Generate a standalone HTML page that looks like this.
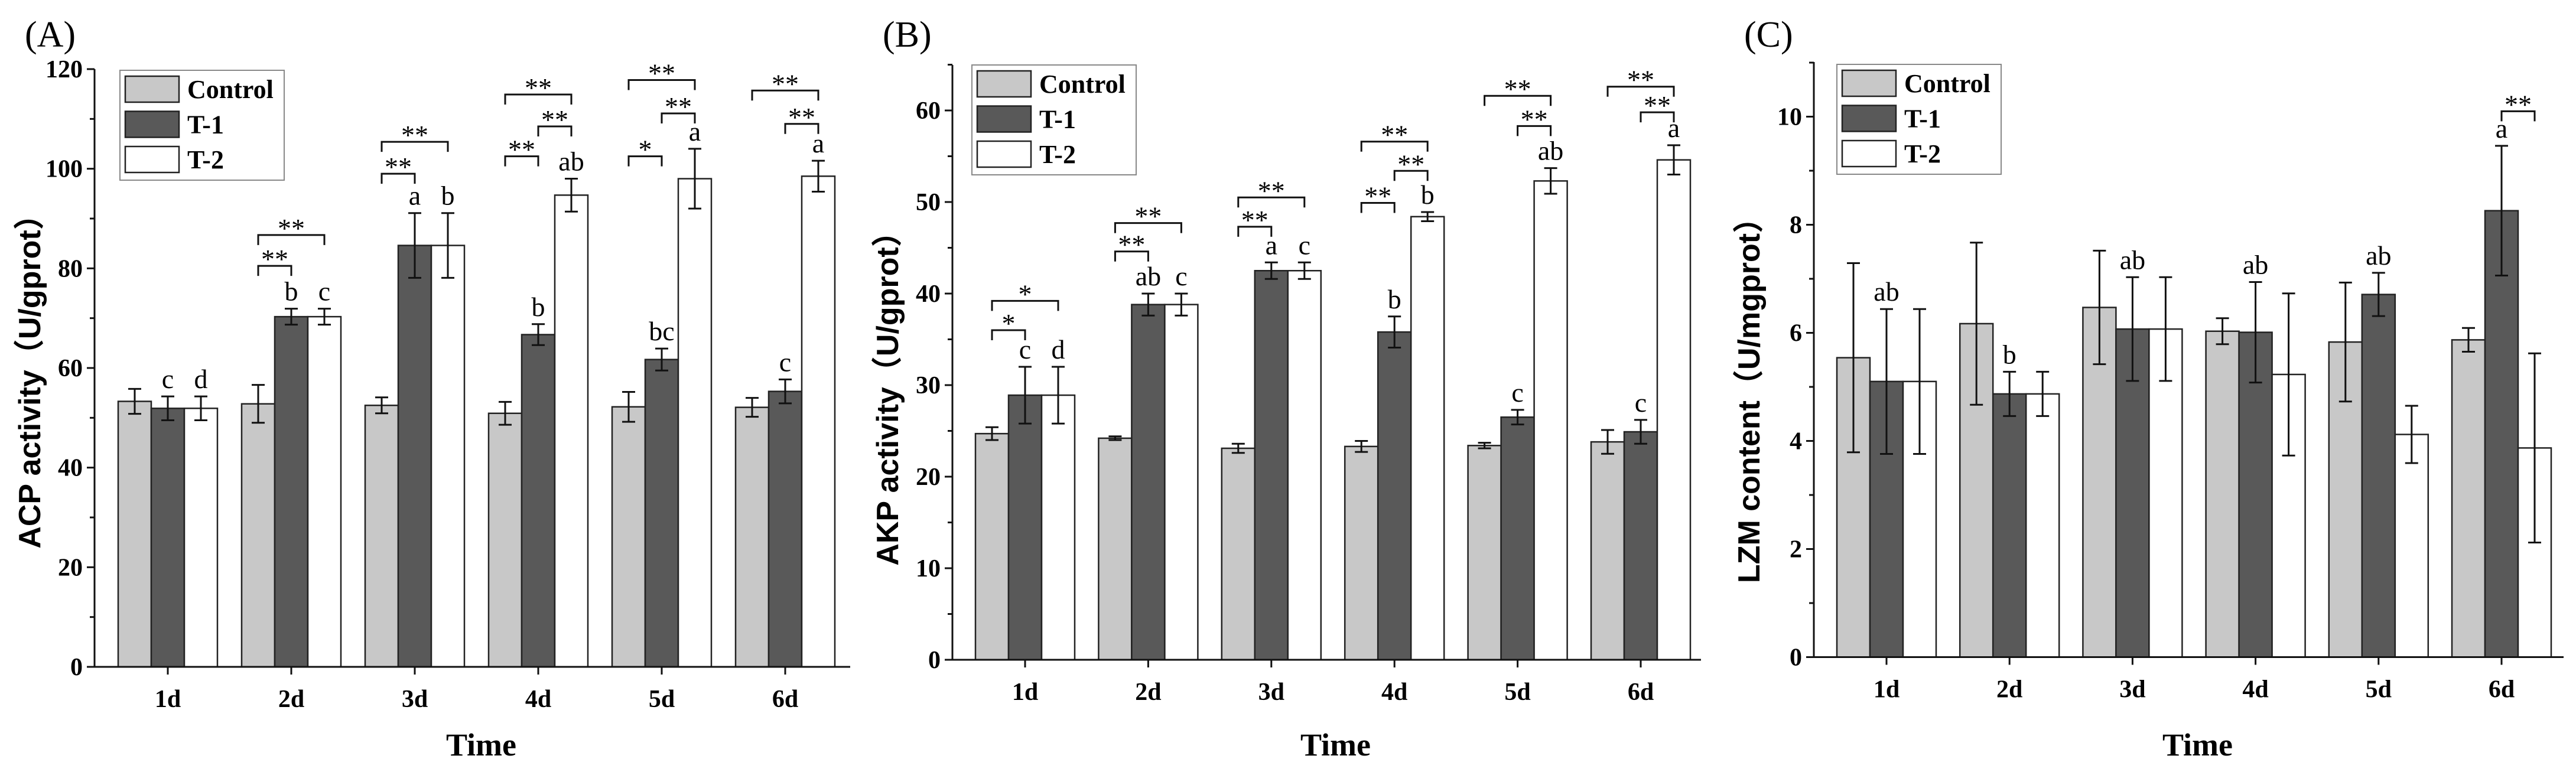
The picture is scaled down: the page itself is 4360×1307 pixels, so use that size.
<!DOCTYPE html>
<html><head><meta charset="utf-8"><style>
html,body{margin:0;padding:0;background:#fff}
svg{display:block}
</style></head><body>
<svg id="fig" width="4360" height="1307" viewBox="0 0 4360 1307" xmlns="http://www.w3.org/2000/svg"></svg>
<script>
const categories = ["1d","2d","3d","4d","5d","6d"];
const seriesNames = ["Control","T-1","T-2"];
// Panel A: ACP
const acpControl = [53.3,52.8,52.5,50.9,52.2,52.1];
const acpControlErr = [2.5,3.8,1.6,2.3,3.0,1.9];
const acpT1 = [51.9,70.3,84.6,66.7,61.7,55.3];
const acpT1Err = [2.4,1.6,6.5,2.1,2.2,2.4];
const acpT2 = [51.9,70.3,84.6,94.7,98.0,98.5];
const acpT2Err = [2.4,1.6,6.5,3.3,6.0,3.1];
const acpLettersT1 = ["c","b","a","b","bc","c"];
const acpLettersT2 = ["d","c","b","ab","a","a"];
const acpBrackets = [[1,0,1,80.5,"**"],[1,0,2,86.7,"**"],[2,0,1,99,"**"],[2,0,2,105.4,"**"],[3,0,1,102.5,"**"],[3,1,2,108.5,"**"],[3,0,2,114.9,"**"],[4,0,1,102.5,"*"],[4,1,2,111.1,"**"],[4,0,2,117.8,"**"],[5,1,2,109,"**"],[5,0,2,115.7,"**"]];
const acpTicks = [0,20,40,60,80,100,120];
// Panel B: AKP
const akpControl = [24.7,24.2,23.1,23.3,23.4,23.8];
const akpControlErr = [0.7,0.2,0.5,0.6,0.3,1.3];
const akpT1 = [28.9,38.8,42.5,35.8,26.5,24.9];
const akpT1Err = [3.1,1.2,0.9,1.7,0.8,1.3];
const akpT2 = [28.9,38.8,42.5,48.4,52.3,54.6];
const akpT2Err = [3.1,1.2,0.9,0.5,1.4,1.6];
const akpLettersT1 = ["c","ab","a","b","c","c"];
const akpLettersT2 = ["d","c","c","b","ab","a"];
const akpBrackets = [[0,0,1,36.0,"*"],[0,0,2,39.2,"*"],[1,0,1,44.6,"**"],[1,0,2,47.7,"**"],[2,0,1,47.3,"**"],[2,0,2,50.5,"**"],[3,0,1,49.9,"**"],[3,1,2,53.4,"**"],[3,0,2,56.6,"**"],[4,1,2,58.3,"**"],[4,0,2,61.6,"**"],[5,1,2,59.8,"**"],[5,0,2,62.6,"**"]];
const akpTicks = [0,10,20,30,40,50,60];
// Panel C: LZM
const lzmControl = [5.54,6.17,6.47,6.03,5.83,5.87];
const lzmControlErr = [1.75,1.5,1.05,0.24,1.1,0.22];
const lzmT1 = [5.10,4.87,6.07,6.01,6.71,8.26];
const lzmT1Err = [1.34,0.41,0.96,0.93,0.4,1.2];
const lzmT2 = [5.10,4.87,6.07,5.23,4.12,3.87];
const lzmT2Err = [1.34,0.41,0.96,1.5,0.53,1.75];
const lzmLettersT1 = ["ab","b","ab","ab","ab","a"];
const lzmLettersT2 = ["","","","","",""];
const lzmBrackets = [[5,1,2,10.1,"**"]];
const lzmTicks = [0,2,4,6,8,10];

const NS="http://www.w3.org/2000/svg";
const svg=document.getElementById('fig');
function mk(tag,attrs,parent){const e=document.createElementNS(NS,tag);for(const k in attrs)e.setAttribute(k,attrs[k]);(parent||svg).appendChild(e);return e;}
const fills=["#c8c8c8","#595959","#ffffff"];
const SERIF='"Liberation Serif", serif';

function panel(cfg){
  const g=mk('g',{});
  
  
  const y=v=>cfg.y0-(v-cfg.vmin)/(cfg.vmax-cfg.vmin)*(cfg.y0-cfg.ytop);
  const xc=i=>cfg.x1d+i*cfg.dx;
  const bw=56;
  const lab=mk('text',{x:cfg.ax-118,y:79,'font-family':SERIF,'font-size':62},g);
  lab.textContent=cfg.letter;
  
  
  const vals=[cfg.c,cfg.t1,cfg.t2], errs=[cfg.ce,cfg.t1e,cfg.t2e];
  for(let s=0;s<3;s++){
    for(let i=0;i<categories.length;i++){
      const cx=xc(i)+(s-1)*bw;
      const top=y(vals[s][i]);
      const r=mk('rect',{x:cx-bw/2,y:top,width:bw,height:cfg.y0-top,fill:fills[s],stroke:'#222','stroke-width':2.5},g);
      
      
    }
  }
  for(let s=0;s<3;s++){
    for(let i=0;i<categories.length;i++){
      const cx=xc(i)+(s-1)*bw;
      const hi=y(vals[s][i]+errs[s][i]), lo=y(vals[s][i]-errs[s][i]);
      const eb=mk('path',{d:`M${cx},${hi}V${lo}M${cx-11},${hi}H${cx+11}M${cx-11},${lo}H${cx+11}`,stroke:'#111','stroke-width':3,fill:'none'},g);
      
      
      const letters=s===1?cfg.l1:(s===2?cfg.l2:null);
      if(letters&&letters[i]){
        const t=mk('text',{x:cx,y:hi-14,'text-anchor':'middle','font-family':SERIF,'font-size':46},g);
        t.textContent=letters[i];
        
        
      }
    }
  }
  cfg.br.forEach(b=>{
    const xa=xc(b[0])+(b[1]-1)*bw, xb=xc(b[0])+(b[2]-1)*bw, yy=y(b[3]);
    const p=mk('path',{d:`M${xa},${yy+17}V${yy}H${xb}V${yy+17}`,stroke:'#111','stroke-width':3,fill:'none'},g);
    
    
    const t=mk('text',{x:(xa+xb)/2,y:yy+4,'text-anchor':'middle','font-family':SERIF,'font-size':46},g);
    t.textContent=b[4];
    
    
  });
  const axes=mk('path',{d:`M${cfg.ax},${cfg.axTop}V${cfg.y0}H${cfg.axEnd}`,stroke:'#111','stroke-width':3,fill:'none'},g);
  
  
  const step=cfg.ticks[1]-cfg.ticks[0];
  cfg.ticks.forEach(v=>{
    const yy=y(v);
    mk('path',{d:`M${cfg.ax-13},${yy}H${cfg.ax}`,stroke:'#111','stroke-width':3},g);
    const t=mk('text',{x:cfg.ax-20,y:yy+14,'text-anchor':'end','font-family':SERIF,'font-weight':'bold','font-size':42},g);
    t.textContent=v;
    
    
    const m=v+step/2;
    if(y(m)>=cfg.axTop-1) mk('path',{d:`M${cfg.ax-8},${y(m)}H${cfg.ax}`,stroke:'#111','stroke-width':3},g);
  });
  categories.forEach((c,i)=>{
    mk('path',{d:`M${xc(i)},${cfg.y0}V${cfg.y0+13}`,stroke:'#111','stroke-width':3},g);
    const t=mk('text',{x:xc(i),y:cfg.y0+68,'text-anchor':'middle','font-family':SERIF,'font-weight':'bold','font-size':42},g);
    t.textContent=c;
    
    
  });
  const xt=mk('text',{x:(cfg.ax+cfg.axEnd)/2+15,y:1279,'text-anchor':'middle','font-family':SERIF,'font-weight':'bold','font-size':54},g);
  xt.textContent='Time';
  
  
  const yt=mk('text',{x:0,y:0,'text-anchor':'middle','font-family':'"Liberation Sans", "Noto Sans CJK SC", sans-serif','font-weight':'bold','font-size':52,transform:`translate(${cfg.ax-92},${(cfg.ytop+cfg.y0)/2+10}) rotate(-90)`},g);
  yt.textContent=cfg.ytitle;
  
  
  const L=cfg.leg;
  const lg=mk('g',{},g);
  
  
  mk('rect',{x:L[0],y:L[1],width:278,height:186,fill:'#fff',stroke:'#888','stroke-width':2},lg);
  for(let s=0;s<3;s++){
    const ry=L[1]+10+s*59.5;
    const sw=mk('rect',{x:L[0]+9,y:ry,width:91,height:44,fill:fills[s],stroke:'#222','stroke-width':2.5},lg);
    
    
    const t=mk('text',{x:L[0]+114,y:ry+37,'font-family':SERIF,'font-weight':'bold','font-size':44},lg);
    t.textContent=seriesNames[s];
    
    
  }
}
panel({name:'acp',letter:'(A)',ax:160,axTop:117,ytop:117,y0:1129,vmin:0,vmax:120,x1d:284,dx:209,axEnd:1439,
  c:acpControl,ce:acpControlErr,t1:acpT1,t1e:acpT1Err,t2:acpT2,t2e:acpT2Err,l1:acpLettersT1,l2:acpLettersT2,br:acpBrackets,ticks:acpTicks,
  ytitle:'ACP activity（U/gprot）',leg:[203,119]});
panel({name:'akp',letter:'(B)',ax:1612,axTop:110,ytop:187,y0:1117,vmin:0,vmax:60,x1d:1735,dx:208.4,axEnd:2879,
  c:akpControl,ce:akpControlErr,t1:akpT1,t1e:akpT1Err,t2:akpT2,t2e:akpT2Err,l1:akpLettersT1,l2:akpLettersT2,br:akpBrackets,ticks:akpTicks,
  ytitle:'AKP activity（U/gprot）',leg:[1645,110]});
panel({name:'lzm',letter:'(C)',ax:3070,axTop:105,ytop:197.5,y0:1112.5,vmin:0,vmax:10,x1d:3193,dx:208.2,axEnd:4339,
  c:lzmControl,ce:lzmControlErr,t1:lzmT1,t1e:lzmT1Err,t2:lzmT2,t2e:lzmT2Err,l1:lzmLettersT1,l2:lzmLettersT2,br:lzmBrackets,ticks:lzmTicks,
  ytitle:'LZM content（U/mgprot）',leg:[3109,109]});
</script>
</body></html>
